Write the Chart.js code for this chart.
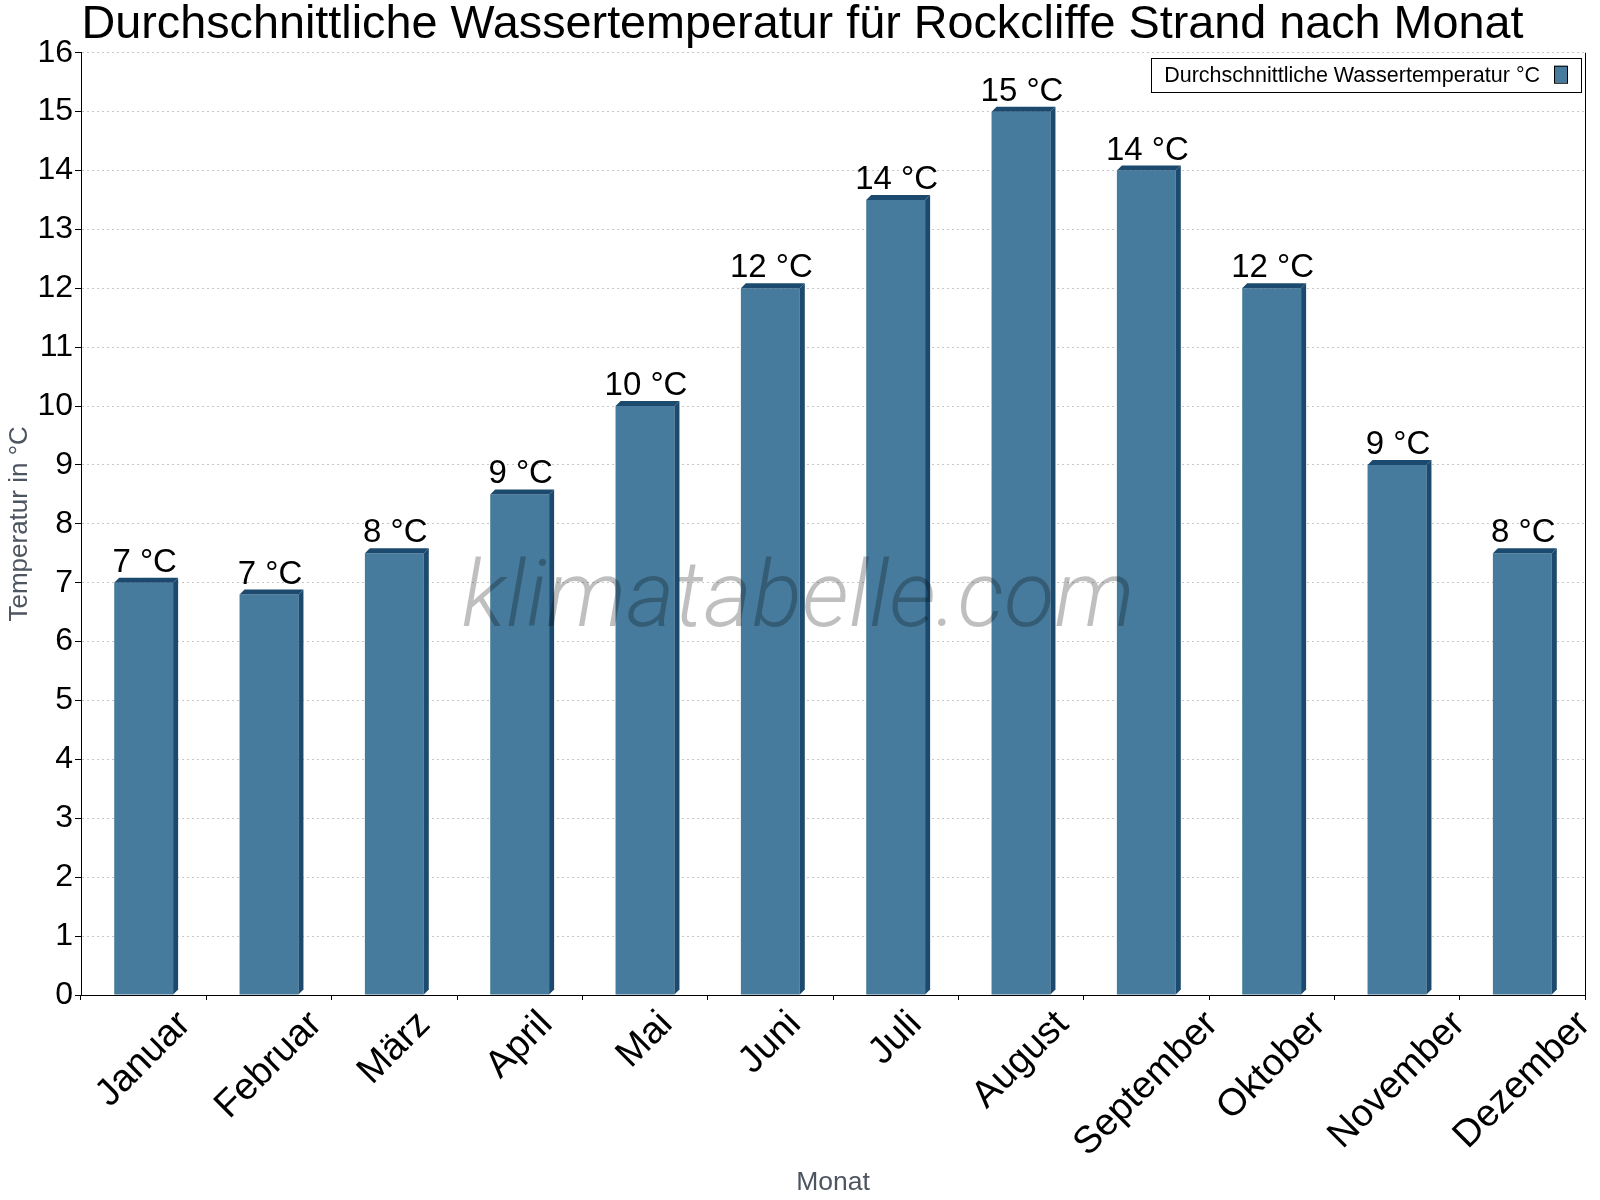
<!DOCTYPE html>
<html lang="de">
<head>
    <meta charset="UTF-8">
    <title>Wassertemperatur Rockcliffe Strand</title>
    <script src="https://cdn.jsdelivr.net/npm/chart.js"></script>
    <style>
        body { margin: 0; background: #fff; }
        #wrap { width: 1600px; height: 1200px; }
    </style>
</head>
<body>
    <div id="wrap"><canvas id="waterChart" width="1600" height="1200"></canvas></div>
    <script>
        // Data
        const months = ['Januar', 'Februar', 'März', 'April', 'Mai', 'Juni',
                        'Juli', 'August', 'September', 'Oktober', 'November', 'Dezember'];
        const waterTemp = [7.0, 6.8, 7.5, 8.5, 10.0, 12.0, 13.5, 15.0, 14.0, 12.0, 9.0, 7.5];
        const seriesName = 'Durchschnittliche Wassertemperatur °C';
        const yTicks = [0, 16, 1]; // min, max, step

        const FONT = '"Liberation Sans", Arial, sans-serif';
        const barColor = '#467b9d';
        const sideColor = '#1b4a6e';
        const DEPTH = 5;

        // 3D side + top faces, value labels, watermark, legend, rotated month labels
        const decoPlugin = {
            id: 'deco',
            afterDatasetsDraw(chart) {
                const ctx = chart.ctx;
                const meta = chart.getDatasetMeta(0);
                ctx.save();
                ctx.fillStyle = sideColor;
                meta.data.forEach(bar => {
                    const l = bar.x - bar.width / 2, r = bar.x + bar.width / 2;
                    // top face
                    ctx.beginPath();
                    ctx.moveTo(l, bar.y);
                    ctx.lineTo(l + DEPTH, bar.y - DEPTH);
                    ctx.lineTo(r + DEPTH, bar.y - DEPTH);
                    ctx.lineTo(r, bar.y);
                    ctx.closePath();
                    ctx.fill();
                    // right face
                    ctx.beginPath();
                    ctx.moveTo(r, bar.y);
                    ctx.lineTo(r + DEPTH, bar.y - DEPTH);
                    ctx.lineTo(r + DEPTH, bar.base - DEPTH);
                    ctx.lineTo(r, bar.base);
                    ctx.closePath();
                    ctx.fill();
                });

                // value labels
                ctx.fillStyle = '#000';
                ctx.font = '33px ' + FONT;
                ctx.textAlign = 'center';
                ctx.textBaseline = 'alphabetic';
                meta.data.forEach((bar, i) => {
                    ctx.fillText(Math.round(waterTemp[i]) + ' °C', bar.x + 1, bar.y - 11);
                });

                // watermark
                ctx.font = 'italic 300 93px Roboto, "Open Sans", sans-serif';
                ctx.fillStyle = 'rgba(0,0,0,0.25)';
                ctx.fillText('klimatabelle.com', chart.width / 2 - 2, 626);
                ctx.restore();
            },
            afterDraw(chart) {
                const ctx = chart.ctx;
                const area = chart.chartArea;
                const xs = chart.scales.x;
                ctx.save();

                // right border of plot
                ctx.strokeStyle = '#000';
                ctx.lineWidth = 1;
                ctx.beginPath();
                ctx.moveTo(Math.round(area.right) + 0.5, area.top);
                ctx.lineTo(Math.round(area.right) + 0.5, area.bottom);
                ctx.stroke();

                // legend box
                ctx.font = '21.5px ' + FONT;
                const tw = ctx.measureText(seriesName).width;
                const bw = 13 + tw + 14 + 13 + 14, bh = 34;
                const bx = area.right - 4 - bw, by = area.top + 5;
                ctx.fillStyle = '#fff';
                ctx.fillRect(bx, by, bw, bh);
                ctx.strokeRect(Math.round(bx) + 0.5, Math.round(by) + 0.5, Math.round(bw), bh);
                ctx.fillStyle = '#000';
                ctx.textAlign = 'left';
                ctx.textBaseline = 'middle';
                ctx.fillText(seriesName, bx + 13, by + bh / 2 + 1);
                const sx = Math.round(bx + 13 + tw + 14);
                ctx.fillStyle = barColor;
                ctx.fillRect(sx, by + 8, 13, 17);
                ctx.strokeRect(sx + 0.5, by + 8.5, 13, 17);

                // month labels, rotated 45°, centred under each bar
                ctx.font = '38px ' + FONT;
                ctx.fillStyle = '#000';
                ctx.textAlign = 'center';
                ctx.textBaseline = 'middle';
                const s = Math.SQRT1_2;
                chart.data.labels.forEach((lab, i) => {
                    const cx = xs.getPixelForValue(i);
                    const w = ctx.measureText(lab).width;
                    const side = (w + 32) * s;
                    ctx.save();
                    ctx.translate(cx, area.bottom + 12 + side / 2);
                    ctx.rotate(-Math.PI / 4);
                    ctx.fillText(lab, 0, 0);
                    ctx.restore();
                });
                ctx.restore();
            }
        };

        const ctx = document.getElementById('waterChart').getContext('2d');
        new Chart(ctx, {
            type: 'bar',
            data: {
                labels: months,
                datasets: [{
                    label: seriesName,
                    data: waterTemp,
                    backgroundColor: barColor,
                    borderWidth: 0,
                    barPercentage: 0.47,
                    categoryPercentage: 1.0
                }]
            },
            options: {
                responsive: false,
                animation: false,
                devicePixelRatio: 1,
                layout: { padding: { left: 20, right: 15, top: 0, bottom: 0 } },
                plugins: {
                    legend: { display: false },
                    tooltip: { enabled: false },
                    title: {
                        display: true,
                        text: 'Durchschnittliche Wassertemperatur für Rockcliffe Strand nach Monat',
                        color: '#000',
                        font: { family: FONT, size: 46.75, weight: 'normal', lineHeight: 1 },
                        padding: { top: 2, bottom: 4 }
                    }
                },
                scales: {
                    x: {
                        offset: true,
                        grid: { display: true, drawOnChartArea: false, offset: true,
                                color: '#000', tickLength: 5 },
                        border: { display: true, color: '#000', width: 1 },
                        ticks: { display: false },
                        title: {
                            display: true, text: 'Monat', color: '#4d5560',
                            font: { family: FONT, size: 26.5 }, padding: { top: 0, bottom: 1 }
                        },
                        afterFit(scale) { scale.height = 205; }
                    },
                    y: {
                        min: yTicks[0],
                        max: yTicks[1],
                        ticks: { stepSize: yTicks[2], color: '#000', padding: 2,
                                 font: { family: FONT, size: 32 } },
                        grid: { color: '#c8c8c8', tickColor: '#000', tickLength: 6, lineWidth: 1 },
                        border: { display: true, color: '#000', width: 1, dash: [2, 3] },
                        title: {
                            display: true, text: 'Temperatur in °C', color: '#4d5560',
                            font: { family: FONT, size: 26 }, padding: { top: -16, bottom: 0 }
                        },
                        afterFit(scale) { scale.width = 61; }
                    }
                }
            },
            plugins: [decoPlugin]
        });
    </script>
</body>
</html>
